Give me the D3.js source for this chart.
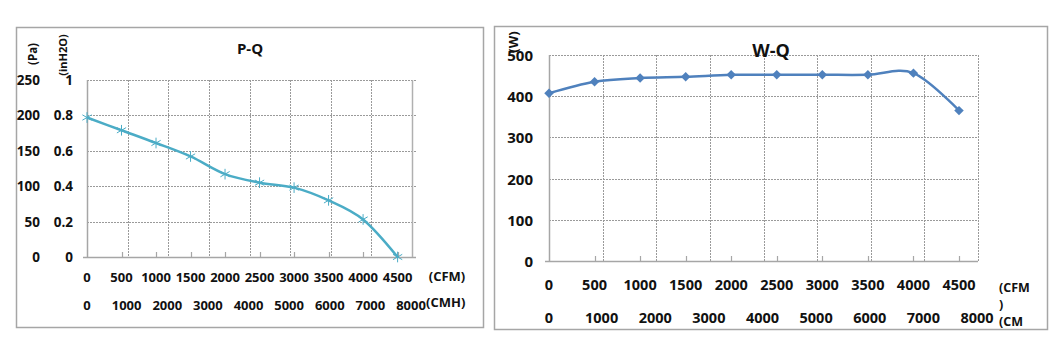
<!DOCTYPE html>
<html>
<head>
<meta charset="utf-8">
<script src="https://cdn.jsdelivr.net/npm/d3@7"></script>
<style>
  html, body { margin: 0; padding: 0; background: #fff; }
  svg text { font-family: "Open Sans", "Liberation Sans", sans-serif; font-weight: 700; fill: #111; }
</style>
</head>
<body>
<svg id="chart" width="1061" height="351"></svg>
<script>
// airflow steps shared by both curves
const cfmPoints = [0, 500, 1000, 1500, 2000, 2500, 3000, 3500, 4000, 4500];
const cmhTicks = [0, 1000, 2000, 3000, 4000, 5000, 6000, 7000, 8000];
const CMH_PER_CFM = 1.699;

// P-Q curve
const pressurePa = [197, 179, 161, 142, 117, 105, 98, 80, 53, 0];
const paTicks = [0, 50, 100, 150, 200, 250];
const inH2OTicks = [0, 0.2, 0.4, 0.6, 0.8, 1];

// W-Q curve
const powerW = [407, 435, 444, 447, 452, 452, 452, 452, 456, 365];
const wTicks = [0, 100, 200, 300, 400, 500];

const svg = d3.select("#chart");

function drawFrame(box) {
    svg.append("rect")
        .attr("x", box.x + 0.5).attr("y", box.y + 0.5)
        .attr("width", box.w).attr("height", box.h)
        .attr("fill", "#fff")
        .attr("stroke", "#a6a6a6")
        .attr("stroke-width", 1.5);
}

function drawGrid(g, x, y, yTickVals, gridRight) {
    const [x0] = x.range();
    const [yb, yt] = y.range();

    g.selectAll(".hgrid")
        .data(yTickVals.filter(v => v !== 0))
        .enter().append("line")
        .attr("x1", x0).attr("x2", gridRight)
        .attr("y1", d => Math.round(y(d)) + 0.5).attr("y2", d => Math.round(y(d)) + 0.5)
        .attr("stroke", "#9a9a9a")
        .attr("stroke-dasharray", "2,1");

    g.selectAll(".vgrid")
        .data(cmhTicks.filter(v => v !== 0))
        .enter().append("line")
        .attr("x1", d => Math.round(x(d)) + 0.5).attr("x2", d => Math.round(x(d)) + 0.5)
        .attr("y1", yt).attr("y2", yb)
        .attr("stroke", "#9a9a9a")
        .attr("stroke-dasharray", "2,1");
}

function drawAxes(g, x, xCfm, y, gridRight) {
    const [x0] = x.range();
    const [yb, yt] = y.range();

    // left + bottom axis lines
    g.append("line")
        .attr("x1", x0 + 0.5).attr("x2", x0 + 0.5)
        .attr("y1", yt).attr("y2", yb)
        .attr("stroke", "#a6a6a6").attr("stroke-width", 1.5);
    g.append("line")
        .attr("x1", x0 - 4).attr("x2", gridRight)
        .attr("y1", yb + 0.5).attr("y2", yb + 0.5)
        .attr("stroke", "#a6a6a6").attr("stroke-width", 1.5);

    // small CFM ticks pointing up
    g.selectAll(".cfmtick")
        .data(cfmPoints.filter(v => v !== 0))
        .enter().append("line")
        .attr("x1", d => Math.round(xCfm(d)) + 0.5).attr("x2", d => Math.round(xCfm(d)) + 0.5)
        .attr("y1", yb).attr("y2", yb - 5)
        .attr("stroke", "#a6a6a6").attr("stroke-width", 1.2);
}

function drawXLabels(g, x, xCfm, rowCfm, rowCmh, fs) {
    g.selectAll(".cfmlab")
        .data(cfmPoints)
        .enter().append("text")
        .attr("x", d => xCfm(d))
        .attr("y", rowCfm)
        .attr("text-anchor", "middle")
        .attr("dominant-baseline", "central")
        .style("font-size", fs + "px")
        .text(d => d);

    g.selectAll(".cmhlab")
        .data(cmhTicks)
        .enter().append("text")
        .attr("x", d => x(d) - (d === 0 ? 0 : 1))
        .attr("y", rowCmh)
        .attr("text-anchor", "middle")
        .attr("dominant-baseline", "central")
        .style("font-size", fs + "px")
        .text(d => d);
}

// ---------- P-Q ----------
function drawPQ() {
    drawFrame({ x: 16, y: 27, w: 467, h: 300 });
    const g = svg.append("g");

    const x = d3.scaleLinear().domain([0, 8000]).range([87, 412]);
    const xCfm = d3.scaleLinear().domain([0, 8000 / CMH_PER_CFM]).range([87, 412]);
    const y = d3.scaleLinear().domain([0, 250]).range([257, 80]);
    const yIn = d3.scaleLinear().domain([0, 1]).range([257, 80]);

    drawGrid(g, x, y, paTicks, 416);
    drawAxes(g, x, xCfm, y, 416);

    // solid right edge of the plot
    g.append("line")
        .attr("x1", 412.5).attr("x2", 412.5)
        .attr("y1", 80).attr("y2", 257)
        .attr("stroke", "#b0b0b0").attr("stroke-width", 1.5);

    g.selectAll(".pa")
        .data(paTicks).enter().append("text")
        .attr("x", 40).attr("y", d => y(d))
        .attr("text-anchor", "end").attr("dominant-baseline", "central")
        .style("font-size", "13.5px")
        .text(d => d);

    g.selectAll(".inh")
        .data(inH2OTicks).enter().append("text")
        .attr("x", 73).attr("y", d => yIn(d))
        .attr("text-anchor", "end").attr("dominant-baseline", "central")
        .style("font-size", "13.5px")
        .text(d => d);

    g.append("text")
        .attr("transform", "translate(32,54) rotate(-90)")
        .attr("text-anchor", "middle").attr("dominant-baseline", "central")
        .style("font-size", "11.5px")
        .text("(Pa)");
    g.append("text")
        .attr("transform", "translate(62,55) rotate(-90)")
        .attr("text-anchor", "middle").attr("dominant-baseline", "central")
        .style("font-size", "11px")
        .text("(inH2O)");

    drawXLabels(g, x, xCfm, 277, 305, 13);

    g.append("text").attr("x", 447).attr("y", 276)
        .attr("text-anchor", "middle").attr("dominant-baseline", "central")
        .style("font-size", "13px").text("(CFM)");
    g.append("text").attr("x", 426).attr("y", 302)
        .attr("dominant-baseline", "central")
        .style("font-size", "13px").text("(CMH)");

    g.append("text").attr("x", 250).attr("y", 48)
        .attr("text-anchor", "middle").attr("dominant-baseline", "central")
        .style("font-size", "15px").text("P-Q");

    const pts = cfmPoints.map((c, i) => [xCfm(c), y(pressurePa[i])]);
    const line = d3.line().curve(d3.curveCardinal.tension(0));
    g.append("path")
        .attr("d", line(pts))
        .attr("fill", "none")
        .attr("stroke", "#4bacc6")
        .attr("stroke-width", 2.5);

    g.selectAll(".star")
        .data(pts).enter().append("path")
        .attr("transform", d => `translate(${d[0]},${d[1]})`)
        .attr("d", d3.symbol(d3.symbolAsterisk, 80)())
        .attr("fill", "none")
        .attr("stroke", "#4bacc6")
        .attr("stroke-width", 1);
}

// ---------- W-Q ----------
function drawWQ() {
    drawFrame({ x: 494, y: 26, w: 553, h: 303 });
    const g = svg.append("g");

    const x = d3.scaleLinear().domain([0, 8000]).range([549, 978]);
    const xCfm = d3.scaleLinear().domain([0, 8000 / CMH_PER_CFM]).range([549, 978]);
    const y = d3.scaleLinear().domain([0, 500]).range([261, 55]);

    drawGrid(g, x, y, wTicks, 978);
    drawAxes(g, x, xCfm, y, 978);

    g.selectAll(".w")
        .data(wTicks).enter().append("text")
        .attr("x", 533).attr("y", d => y(d))
        .attr("text-anchor", "end").attr("dominant-baseline", "central")
        .style("font-size", "15px")
        .text(d => d);

    g.append("text")
        .attr("transform", "translate(513,42) rotate(-90)")
        .attr("text-anchor", "middle").attr("dominant-baseline", "central")
        .style("font-size", "13px")
        .text("(W)");

    drawXLabels(g, x, xCfm, 284, 317, 14.5);

    // unit label wraps in the narrow space at the right edge
    const unit = g.append("text")
        .attr("x", 999).attr("y", 292)
        .style("font-size", "12.5px");
    unit.append("tspan").attr("x", 999).attr("dy", 0).text("(CFM");
    unit.append("tspan").attr("x", 999).attr("dy", 17).text(")");
    unit.append("tspan").attr("x", 999).attr("dy", 17).text("(CM");

    g.append("text").attr("x", 771).attr("y", 50)
        .attr("text-anchor", "middle").attr("dominant-baseline", "central")
        .style("font-size", "18px").text("W-Q");

    const pts = cfmPoints.map((c, i) => [xCfm(c), y(powerW[i])]);
    const line = d3.line().curve(d3.curveCardinal.tension(0));
    g.append("path")
        .attr("d", line(pts))
        .attr("fill", "none")
        .attr("stroke", "#4f81bd")
        .attr("stroke-width", 2.5);

    g.selectAll(".dia")
        .data(pts).enter().append("path")
        .attr("transform", d => `translate(${d[0]},${d[1]}) rotate(45)`)
        .attr("d", d3.symbol(d3.symbolSquare, 45)())
        .attr("fill", "#4f81bd");
}

drawPQ();
drawWQ();
</script>
</body>
</html>
